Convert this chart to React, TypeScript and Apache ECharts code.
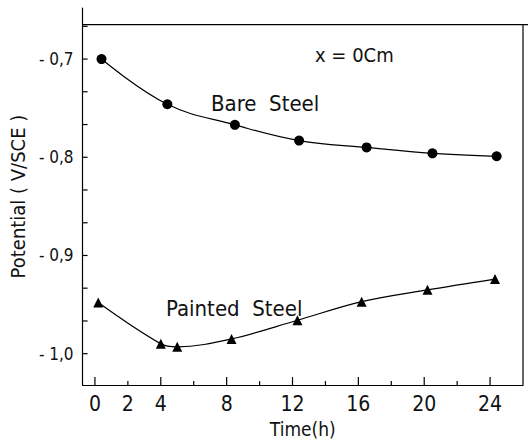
import React, { useEffect, useRef } from "react";
import * as echarts from "echarts";

const bareX = [0.4, 4.4, 8.5, 12.4, 16.5, 20.5, 24.4];
const bareY = [-0.7, -0.746, -0.767, -0.783, -0.79, -0.796, -0.799];
const paintedX = [0.2, 4.0, 5.0, 8.3, 12.3, 16.2, 20.2, 24.3];
const paintedY = [-0.948, -0.99, -0.993, -0.985, -0.966, -0.947, -0.935, -0.924];

const xTickMajor = [0, 4, 8, 12, 16, 20, 24];
const xTickMinor = [2, 6, 10, 14, 18, 22];
const xLabels = [0, 2, 4, 8, 12, 16, 20, 24];
const yLabels = [-1.0, -0.9, -0.8, -0.7];
const yTicks = [-1.0, -0.9667, -0.9333, -0.9, -0.8667, -0.8333, -0.8, -0.7667, -0.7333, -0.7, -0.6667];

const X_MIN = -0.75;
const X_MAX = 26;
const Y_MIN = -1.032;
const Y_MAX = -0.648;
const FRAME_TOP = -0.665;

const FONT = '"DejaVu Sans Condensed", "Liberation Sans", sans-serif';

export default function App() {
  const ref = useRef<HTMLDivElement>(null);
  useEffect(() => {
    const chart = echarts.init(ref.current!, null, { renderer: "svg" });
    const line = { color: "#000", width: 1.2 };
    chart.setOption({
      animation: false,
      backgroundColor: "#fff",
      grid: { left: 79, right: 5, top: 8, bottom: 49 },
      xAxis: {
        type: "value",
        min: X_MIN,
        max: X_MAX,
        name: "Time(h)",
        nameLocation: "middle",
        nameGap: 28,
        nameTextStyle: { fontFamily: FONT, fontSize: 19, color: "#111" },
        axisLine: { show: true, onZero: false, lineStyle: line },
        axisTick: { show: false },
        axisLabel: {
          show: true,
          customValues: xLabels,
          margin: 8,
          fontFamily: FONT,
          fontSize: 21,
          color: "#111",
        },
        splitLine: { show: false },
      },
      yAxis: {
        type: "value",
        min: Y_MIN,
        max: Y_MAX,
        name: "Potential ( V/SCE )",
        nameLocation: "middle",
        nameGap: 52,
        nameTextStyle: { fontFamily: FONT, fontSize: 20, color: "#111" },
        axisLine: { show: true, onZero: false, lineStyle: line },
        axisTick: { show: false },
        axisLabel: {
          show: true,
          customValues: yLabels,
          margin: 9,
          fontFamily: FONT,
          fontSize: 17,
          color: "#111",
          formatter: (v: number) => "- " + Math.abs(v).toFixed(1).replace(".", ","),
        },
        splitLine: { show: false },
      },
      series: [
        {
          type: "line",
          name: "Bare Steel",
          data: bareX.map((x, i) => [x, bareY[i]]),
          smooth: 0.4,
          symbol: "circle",
          symbolSize: 10,
          itemStyle: { color: "#000" },
          lineStyle: line,
        },
        {
          type: "line",
          name: "Painted Steel",
          data: paintedX.map((x, i) => [x, paintedY[i]]),
          smooth: 0.35,
          symbol: "triangle",
          symbolSize: 10,
          itemStyle: { color: "#000" },
          lineStyle: line,
        },
      ],
    });

    // ticks and frame, positioned through the chart's own scales
    const px = (v: number[]) => chart.convertToPixel({ gridIndex: 0 }, v) as number[];
    const seg = (a: number[], b: number[]) => ({
      type: "line",
      silent: true,
      z: 50,
      shape: { x1: a[0], y1: a[1], x2: b[0], y2: b[1] },
      style: { stroke: "#000", lineWidth: 1.2 },
    });
    const els: any[] = [];
    xTickMajor.forEach((v) => {
      const p = px([v, Y_MIN]);
      els.push(seg(p, [p[0], p[1] - 8]));
    });
    xTickMinor.forEach((v) => {
      const p = px([v, Y_MIN]);
      els.push(seg(p, [p[0], p[1] - 4]));
    });
    yTicks.forEach((v) => {
      const p = px([X_MIN, v]);
      els.push(seg(p, [p[0] + 5, p[1]]));
    });
    const tl = px([X_MIN, FRAME_TOP]);
    const br = px([X_MAX, Y_MIN]);
    els.push(seg(tl, [528, tl[1]]));
    els.push(seg([br[0], tl[1]], br));
    els.push(
      { type: "text", left: 315, top: 45, style: { text: "x = 0Cm", font: `20px ${FONT}`, fill: "#111" } },
      { type: "text", left: 211, top: 92, style: { text: "Bare  Steel", font: `22px ${FONT}`, fill: "#111" } },
      { type: "text", left: 166, top: 297, style: { text: "Painted  Steel", font: `22px ${FONT}`, fill: "#111" } }
    );
    chart.setOption({ graphic: els });
    return () => chart.dispose();
  }, []);
  return (
    <div
      ref={ref}
      style={{ position: "fixed", left: 0, top: 0, width: 528, height: 443 }}
    />
  );
}
